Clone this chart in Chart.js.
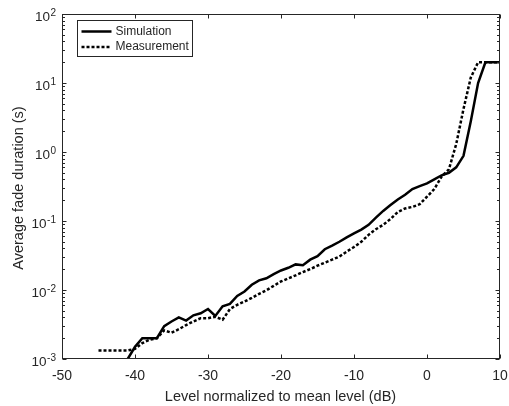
<!DOCTYPE html>
<html>
<head>
<meta charset="utf-8">
<script src="https://cdn.jsdelivr.net/npm/chart.js@4/dist/chart.umd.min.js"></script>
<style>
  html, body { margin: 0; padding: 0; background: #fff; }
  canvas { display: block; }
</style>
</head>
<body>
<canvas id="c" width="509" height="406"></canvas>
<script>
// level normalized to mean level (dB)
const simLevel = [-41, -40, -39, -38, -37, -36, -35, -34, -33, -32, -31, -30, -29, -28, -27, -26, -25, -24, -23, -22, -21,
  -20, -19, -18, -17, -16, -15, -14, -13, -12, -11, -10, -9, -8, -7, -6, -5, -4, -3, -2, -1, 0, 1, 2, 3, 4, 5, 6, 7, 8, 9, 10];
// average fade duration (s), simulation
const simAfd = [0.001, 0.0015, 0.002, 0.002, 0.002, 0.003, 0.0035, 0.004, 0.0036, 0.0043, 0.0046, 0.0053, 0.0042, 0.0058,
  0.0063, 0.0082, 0.0095, 0.0119, 0.0138, 0.0148, 0.017, 0.0192, 0.021, 0.0235, 0.0228, 0.0275, 0.031, 0.039, 0.044, 0.05,
  0.058, 0.066, 0.075, 0.088, 0.112, 0.14, 0.17, 0.205, 0.24, 0.29, 0.32, 0.35, 0.4, 0.46, 0.5, 0.6, 0.88, 2.8, 10, 20, 20, 20];

const measLevel = [-45, -44, -43, -42, -41, -40, -39, -38, -37, -36, -35, -34, -33, -32, -31, -30, -29, -28, -27, -26, -25,
  -24, -23, -22, -21, -20, -19, -18, -17, -16, -15, -14, -13, -12, -11, -10, -9, -8, -7, -6, -5, -4, -3, -2, -1, 0, 1, 2, 3,
  4, 5, 6, 7, 8, 9, 10];
// average fade duration (s), measurement
const measAfd = [0.00133, 0.00133, 0.00133, 0.00133, 0.00133, 0.0014, 0.0017, 0.0019, 0.002, 0.0026, 0.0024, 0.0027,
  0.0031, 0.0035, 0.0039, 0.0039, 0.0041, 0.0037, 0.0053, 0.0061, 0.0068, 0.0077, 0.0088, 0.0099, 0.0115, 0.0133, 0.0147,
  0.0163, 0.0182, 0.0201, 0.0225, 0.0249, 0.0275, 0.0305, 0.036, 0.042, 0.05, 0.063, 0.076, 0.088, 0.107, 0.135, 0.152,
  0.16, 0.175, 0.225, 0.29, 0.44, 0.56, 1.3, 4.2, 12, 20, 20, 20, 20];

const xTicks = [-50, -40, -30, -20, -10, 0, 10];
const yExponents = [-3, -2, -1, 0, 1, 2];
const seriesNames = ["Simulation", "Measurement"];

const FONT = '"Liberation Sans", Arial, sans-serif';
const INK = "#262626";

const toPoints = (xs, ys) => xs.map((x, i) => ({ x: x, y: ys[i] }));

// draws the box, inward ticks, tick labels with superscripts, titles and legend
const matlabAxes = {
  id: "matlabAxes",
  afterDraw(chart) {
    const { ctx, chartArea: a, scales } = chart;
    const xs = scales.x, ys = scales.y;
    const L = Math.round(a.left) + 0.5, R = Math.round(a.right) - 0.5;
    const T = Math.round(a.top) + 0.5, B = Math.round(a.bottom) - 0.5;
    ctx.save();
    ctx.strokeStyle = INK;
    ctx.lineWidth = 1;
    ctx.strokeRect(L, T, R - L, B - T);

    ctx.beginPath();
    xTicks.forEach((v) => {
      const px = Math.round(xs.getPixelForValue(v)) + 0.5;
      ctx.moveTo(px, B); ctx.lineTo(px, B - 4);
      ctx.moveTo(px, T); ctx.lineTo(px, T + 4);
    });
    yExponents.forEach((e, i) => {
      const py = Math.round(ys.getPixelForValue(Math.pow(10, e))) + 0.5;
      ctx.moveTo(L, py); ctx.lineTo(L + 4, py);
      ctx.moveTo(R, py); ctx.lineTo(R - 4, py);
      if (i < yExponents.length - 1) {
        for (let k = 2; k <= 9; k++) {
          const pm = Math.round(ys.getPixelForValue(k * Math.pow(10, e))) + 0.5;
          ctx.moveTo(L, pm); ctx.lineTo(L + 2.5, pm);
          ctx.moveTo(R, pm); ctx.lineTo(R - 2.5, pm);
        }
      }
    });
    ctx.stroke();

    ctx.fillStyle = INK;
    ctx.font = "14px " + FONT;
    ctx.textAlign = "center";
    ctx.textBaseline = "middle";
    xTicks.forEach((v) => {
      ctx.fillText(String(v), xs.getPixelForValue(v), B + 18);
    });

    yExponents.forEach((e) => {
      const py = ys.getPixelForValue(Math.pow(10, e));
      const sup = String(e);
      ctx.font = "10px " + FONT;
      const sw = ctx.measureText(sup).width;
      ctx.textAlign = "left";
      ctx.fillText(sup, a.left - 6 - sw, py - 1);
      ctx.font = "13.5px " + FONT;
      ctx.textAlign = "right";
      ctx.fillText("10", a.left - 6.5 - sw, py + 3.5);
    });

    ctx.textAlign = "center";
    ctx.font = "14.5px " + FONT;
    ctx.fillText("Level normalized to mean level (dB)", (a.left + a.right) / 2 - 0.5, 397);
    ctx.save();
    ctx.translate(18.5, 188);
    ctx.rotate(-Math.PI / 2);
    ctx.fillText("Average fade duration (s)", 0, 0);
    ctx.restore();

    // legend
    const lx = 77.5, ly = 20.5, lw = 115, lh = 36;
    ctx.fillStyle = "#fff";
    ctx.fillRect(lx, ly, lw, lh);
    ctx.strokeStyle = INK;
    ctx.strokeRect(lx, ly, lw, lh);
    ctx.font = "12px " + FONT;
    ctx.textAlign = "left";
    chart.data.datasets.forEach((ds, i) => {
      const yy = ly + 11 + i * 15.5;
      ctx.strokeStyle = "#000";
      ctx.lineWidth = 2.5;
      ctx.setLineDash(ds.borderDash || []);
      ctx.beginPath();
      ctx.moveTo(lx + 4, yy); ctx.lineTo(lx + 34, yy);
      ctx.stroke();
      ctx.setLineDash([]);
      ctx.fillStyle = INK;
      ctx.fillText(ds.label, lx + 38, yy);
    });
    ctx.restore();
  }
};

new Chart(document.getElementById("c"), {
  type: "line",
  data: {
    datasets: [
      {
        label: seriesNames[0],
        data: toPoints(simLevel, simAfd),
        borderColor: "#000",
        borderWidth: 2.5,
        pointRadius: 0,
        tension: 0,
        fill: false
      },
      {
        label: seriesNames[1],
        data: toPoints(measLevel, measAfd),
        borderColor: "#000",
        borderWidth: 2.5,
        borderDash: [3, 2],
        pointRadius: 0,
        tension: 0,
        fill: false
      }
    ]
  },
  options: {
    responsive: false,
    animation: false,
    devicePixelRatio: 1,
    layout: { padding: { top: 14, right: 9, left: 0, bottom: 0 } },
    plugins: { legend: { display: false }, tooltip: { enabled: false } },
    scales: {
      x: {
        type: "linear",
        min: -50,
        max: 10,
        grid: { display: false },
        border: { display: false },
        ticks: { display: false },
        afterFit(scale) { scale.height = 47; }
      },
      y: {
        type: "logarithmic",
        min: 0.001,
        max: 100,
        grid: { display: false },
        border: { display: false },
        ticks: { display: false },
        afterFit(scale) { scale.width = 62; }
      }
    }
  },
  plugins: [matlabAxes]
});
</script>
</body>
</html>
